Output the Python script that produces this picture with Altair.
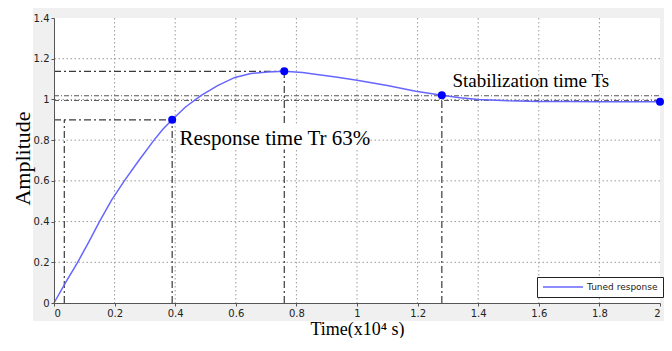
import altair as alt
import pandas as pd

# ---- data ----
time_vals = [0, 0.04, 0.078, 0.115, 0.15, 0.19, 0.232, 0.28, 0.33, 0.36, 0.39,
             0.434, 0.486, 0.54, 0.597, 0.65, 0.705, 0.76, 0.82, 0.868, 0.93, 1.0,
             1.1, 1.194, 1.28, 1.34, 1.4, 1.5, 1.6, 1.7, 1.8, 1.9, 2.0]
amp_vals = [0, 0.105, 0.20, 0.30, 0.40, 0.505, 0.60, 0.70, 0.80, 0.855, 0.90,
            0.963, 1.02, 1.068, 1.108, 1.127, 1.135, 1.138, 1.132, 1.123, 1.11, 1.094,
            1.068, 1.04, 1.02, 1.008, 1.0, 0.993, 0.99, 0.99, 0.989, 0.989, 0.989]
key_t = [0.39, 0.76, 1.28, 2.0]
key_a = [0.90, 1.138, 1.02, 0.989]

x_ticks = [0, 0.2, 0.4, 0.6, 0.8, 1.0, 1.2, 1.4, 1.6, 1.8, 2.0]
y_ticks = [0, 0.2, 0.4, 0.6, 0.8, 1.0, 1.2, 1.4]

# dash-dot reference lines: (x, x2, y, y2)
ref_x = [0, 0, 0.39, 0.76, 1.28, 0.034]
ref_x2 = [0.76, 0.39, 0.39, 0.76, 1.28, 0.034]
ref_y = [1.138, 0.90, 0, 0, 0, 0]
ref_y2 = [1.138, 0.90, 0.90, 1.138, 1.02, 0.90]

# tolerance band lines
band_y = [1.018, 0.995]

label_text = ["Response time Tr 63%", "Stabilization time Ts"]
label_t = [0.414, 1.315]
label_a = [0.778, 1.06]
label_size = [21, 19]
# white box behind first label
box_x, box_x2, box_y, box_y2 = [0.405], [1.04], [0.754], [0.88]

series_name = "Tuned response"

W, H = 606, 285
xs = alt.Scale(domain=[0, 2], nice=False, zero=False)
ys = alt.Scale(domain=[0, 1.4], nice=False)

one = pd.DataFrame({"k": [0]})
curve = pd.DataFrame({"t": time_vals, "a": amp_vals, "s": [series_name] * len(time_vals)})
keys = pd.DataFrame({"t": key_t, "a": key_a})
refs = pd.DataFrame({"x": ref_x, "x2": ref_x2, "y": ref_y, "y2": ref_y2})
bands = pd.DataFrame({"y": band_y, "x": [0, 0], "x2": [2, 2]})
gx = pd.DataFrame({"t": x_ticks[1:-1]})
gy = pd.DataFrame({"a": y_ticks[1:-1]})
labels = pd.DataFrame({"t": label_t, "a": label_a, "txt": label_text, "fs": label_size})
box = pd.DataFrame({"x": box_x, "x2": box_x2, "y": box_y, "y2": box_y2})

X = alt.X("t:Q", scale=xs,
          axis=alt.Axis(values=x_ticks, format="~g", grid=False, zindex=1,
                        title="Time(x10⁴ s)", titleFont="Liberation Serif",
                        titleFontSize=18, titleFontWeight="normal", titleColor="black",
                        titleY=31, titleBaseline="alphabetic"))
Y = alt.Y("a:Q", scale=ys,
          axis=alt.Axis(values=y_ticks, format="~g", grid=False, zindex=1,
                        title="Amplitude", titleFont="Liberation Serif",
                        titleFontSize=22, titleFontWeight="normal", titleColor="black",
                        titleX=-32, titleY=140, titleBaseline="middle", titleAlign="center"))

bg = alt.Chart(one).mark_rect(color="#f0f0f0").encode(
    x=alt.value(-21), x2=alt.value(W + 4), y=alt.value(-12), y2=alt.value(H + 18))
plotbg = alt.Chart(one).mark_rect(color="white").encode(
    x=alt.value(0), x2=alt.value(W), y=alt.value(0), y2=alt.value(H))

grid_style = dict(color="#9a9a9a", strokeDash=[1.5, 2.5], strokeWidth=1)
gridx = alt.Chart(gx).mark_rule(**grid_style).encode(x=alt.X("t:Q", scale=xs))
gridy = alt.Chart(gy).mark_rule(**grid_style).encode(y=alt.Y("a:Q", scale=ys))

band = alt.Chart(bands).mark_rule(color="#555555", strokeDash=[5, 2, 1, 2], strokeWidth=1).encode(
    x=alt.X("x:Q", scale=xs), x2="x2:Q", y=alt.Y("y:Q", scale=ys))

ref = alt.Chart(refs).mark_rule(color="#3a3a3a", strokeDash=[7, 3, 2, 3], strokeWidth=1.2).encode(
    x=alt.X("x:Q", scale=xs), x2="x2:Q", y=alt.Y("y:Q", scale=ys), y2="y2:Q")

line = alt.Chart(curve).mark_line(strokeWidth=1.5).encode(
    x=X, y=Y,
    color=alt.Color("s:N", scale=alt.Scale(domain=[series_name], range=["#6666ff"]),
                    legend=alt.Legend(title=None, orient="none", legendX=483, legendY=259,
                                      symbolType="stroke", symbolSize=1600,
                                      symbolStrokeWidth=1.5, labelFont="DejaVu Sans",
                                      labelFontSize=9, labelColor="#222",
                                      strokeColor="#222", fillColor="white",
                                      padding=5, labelOffset=3, clipHeight=10)))

pts = alt.Chart(keys).mark_circle(color="#0000ff", opacity=1, size=64).encode(
    x=alt.X("t:Q", scale=xs), y=alt.Y("a:Q", scale=ys))

tbox = alt.Chart(box).mark_rect(color="white").encode(
    x=alt.X("x:Q", scale=xs), x2="x2:Q", y=alt.Y("y:Q", scale=ys), y2="y2:Q")

txt = alt.Chart(labels).mark_text(align="left", baseline="alphabetic", font="Liberation Serif",
                                  color="black").encode(
    x=alt.X("t:Q", scale=xs), y=alt.Y("a:Q", scale=ys), text="txt:N",
    size=alt.Size("fs:Q", scale=None, legend=None))

chart = alt.layer(bg, plotbg, gridx, gridy, band, ref, line, pts, tbox, txt).properties(
    width=W, height=H,
    autosize=alt.AutoSizeParams(type="none"),
    padding={"left": 46, "top": 10, "right": 4, "bottom": 35},
    background="white",
).configure_view(stroke="#888888", strokeWidth=1).configure_axis(
    domainColor="#555555", tickColor="#555555", tickSize=3,
    labelFont="DejaVu Sans", labelFontSize=10, labelColor="#222222", labelPadding=2,
)

chart.save("out.html", embed_options={"renderer": "svg", "actions": False})
